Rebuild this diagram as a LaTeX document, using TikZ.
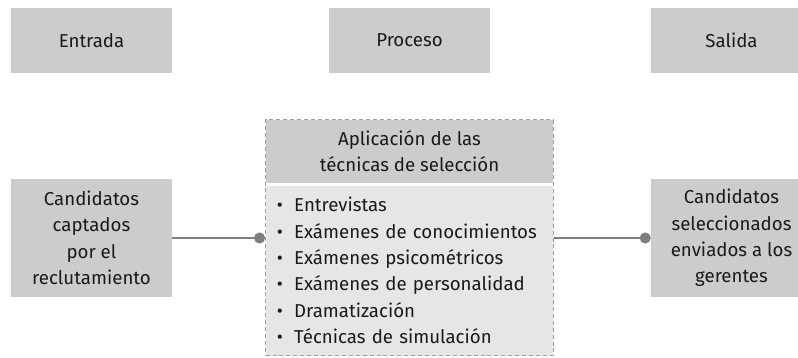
\documentclass[tikz,border=0pt]{standalone}
\usepackage{fontspec}
\setmainfont{Fira Sans}
\usepackage{xcolor}
\definecolor{cajagris}{HTML}{CCCCCC}
\definecolor{cuerpogris}{HTML}{E6E6E6}
\definecolor{lineagris}{HTML}{7F7F7F}
\definecolor{bordegris}{HTML}{9E9E9E}
\definecolor{textonegro}{HTML}{1A1A1A}
\usepackage{tikz}
\usetikzlibrary{arrows.meta, positioning, fit}

\begin{document}
\begin{tikzpicture}[x=0.75pt, y=-0.75pt,
        caja/.style={rectangle, fill=cajagris, text=textonegro, minimum width=120.75pt, minimum height=48.75pt, inner sep=0pt, align=center, font=\fontsize{14}{19.8}\selectfont},
        alta/.style={caja, minimum height=88.5pt},
        hdr/.style={rectangle, fill=cajagris, text=textonegro, minimum width=215.25pt, minimum height=47.25pt, inner sep=0pt, align=center, font=\fontsize{14}{19.5}\selectfont},
        lista/.style={rectangle, fill=cuerpogris, text=textonegro, text width=199pt, minimum height=127.5pt, inner xsep=8.25pt, inner ysep=0pt, align=left, font=\fontsize{14}{19.8}\selectfont},
        marco/.style={rectangle, draw=bordegris, dash pattern=on 3pt off 2.2pt, line width=0.8pt, inner sep=0pt},
        line/.style={draw=lineagris, line width=1.6pt, -{Circle[length=8.25pt]}}]

        \clip (0,0) rectangle (798,357);

        % fila de encabezados
        \node [caja] (entrada) at (91.5,40.5) {Entrada};
        \node [caja] (proceso) at (409.5,40.5) {Proceso};
        \node [caja] (salida) at (731.5,40.5) {Salida};

        % proceso central
        \node [hdr] (aplic) at (409.5,151.5) {Aplicación de las\\técnicas de selección};
        \node [lista, below=1.5pt of aplic] (tecnicas) {%
            \textbullet\hspace{8.5pt}Entrevistas\\
            \textbullet\hspace{8.5pt}Exámenes de conocimientos\\
            \textbullet\hspace{8.5pt}Exámenes psicométricos\\
            \textbullet\hspace{8.5pt}Exámenes de personalidad\\
            \textbullet\hspace{8.5pt}Dramatización\\
            \textbullet\hspace{8.5pt}Técnicas de simulación};
        \node [marco, fit=(aplic)(tecnicas)] (seleccion) {};

        % entrada y salida
        \node [alta] (captados) at (91.5,238) {Candidatos\\captados\\por el\\reclutamiento};
        \node [alta] (enviados) at (731.5,238) {Candidatos\\seleccionados\\enviados a los\\gerentes};

        \path [line] (captados.east) -- (captados.east -| seleccion.west);
        \path [line] (seleccion.east |- enviados.west) -- (enviados.west);
\end{tikzpicture}
\end{document}
